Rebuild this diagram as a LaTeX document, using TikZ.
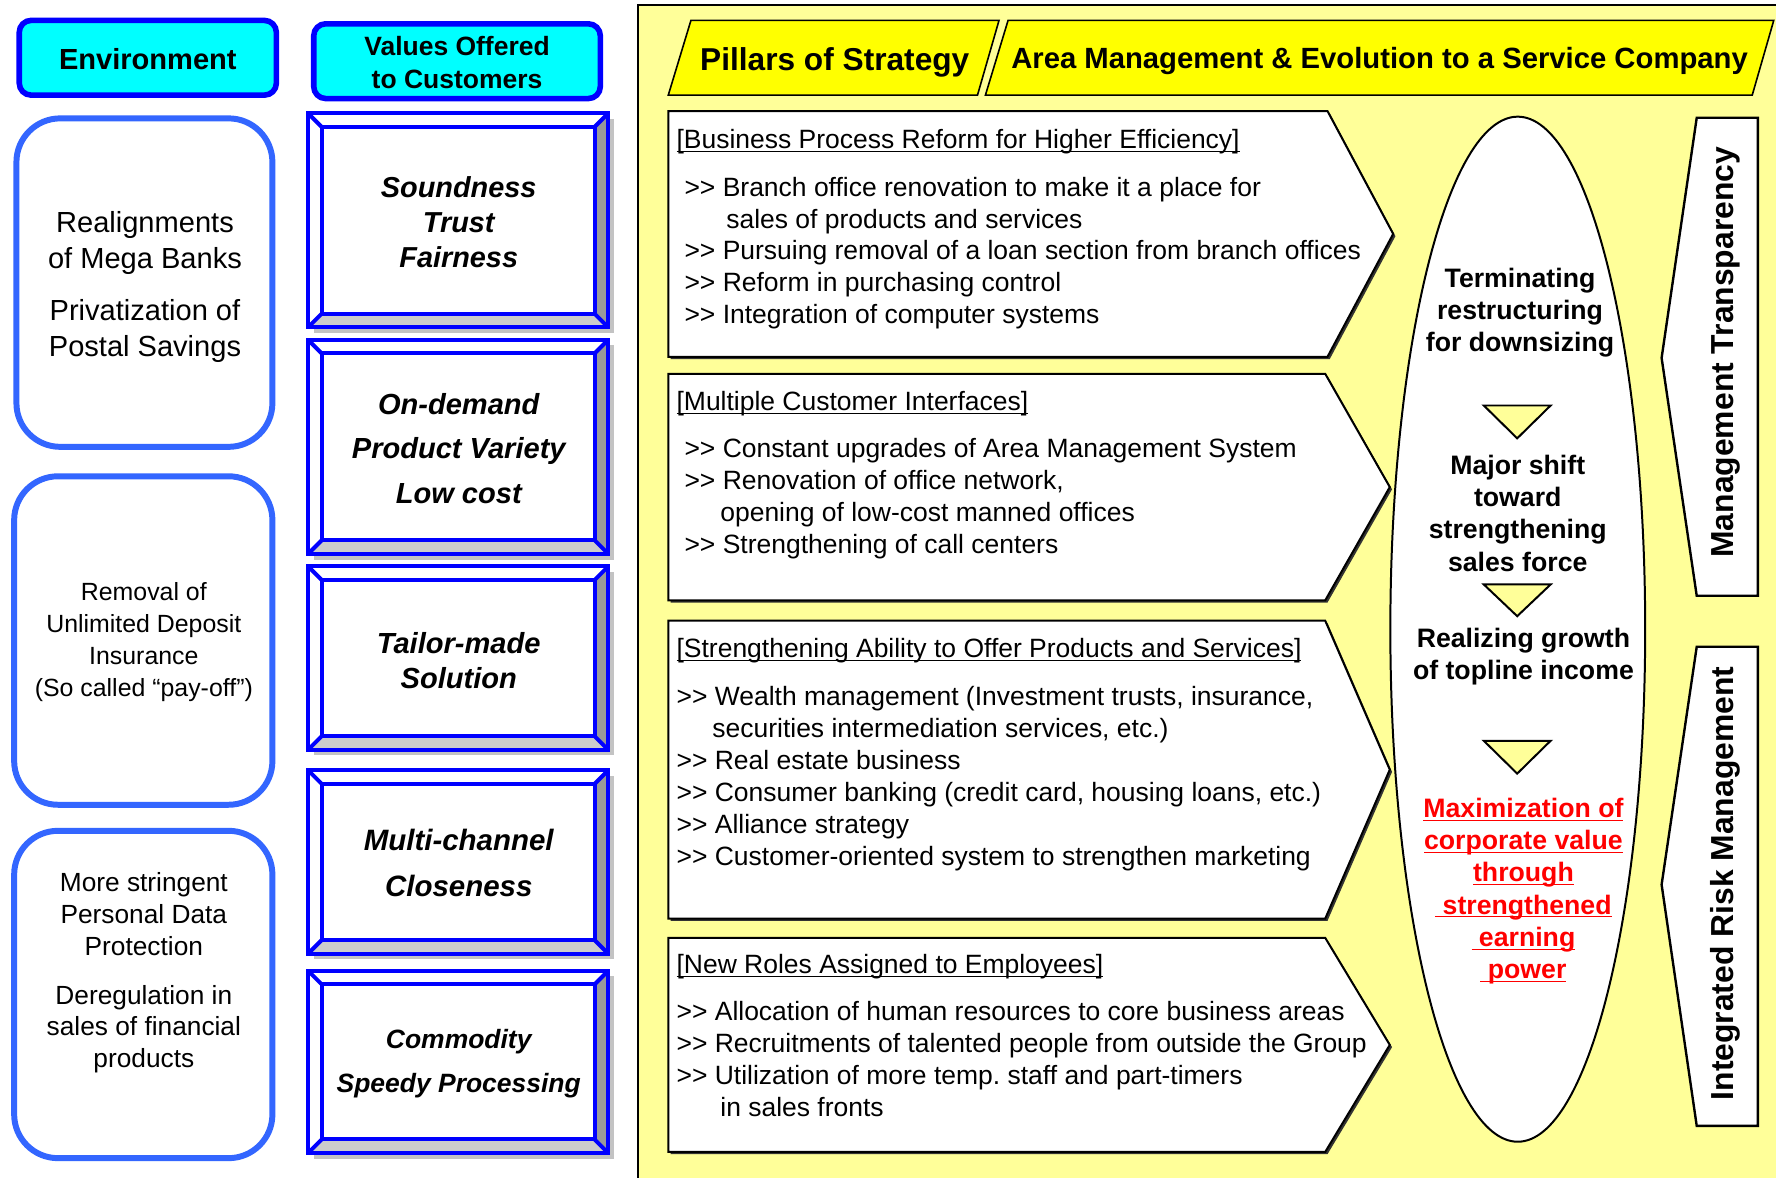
\documentclass[tikz,border=0pt]{standalone}
\usepackage{fontspec}
\setmainfont{Liberation Sans}
\usetikzlibrary{shapes.geometric}
\frenchspacing

\definecolor{hdrblue}{RGB}{0,0,255}
\definecolor{hdrcyan}{RGB}{0,255,255}
\definecolor{envblue}{RGB}{51,102,255}
\definecolor{panelyellow}{RGB}{255,255,153}
\definecolor{tabyellow}{RGB}{255,255,0}
\definecolor{bevelgray}{RGB}{153,153,153}
\definecolor{bevellight}{RGB}{204,204,204}
\definecolor{shadowgray}{RGB}{195,195,195}

\newcommand{\fs}[2]{\fontsize{#1}{#2}\selectfont}
\newcommand{\ulbox}[1]{\underline{\raisebox{0pt}[\height][0pt]{#1}}}
\newcommand{\gtgt}{>\kern0pt>}

\tikzset{
  hdrbox/.style={draw=hdrblue,fill=hdrcyan,line width=2.8pt,rounded corners=6pt},
  envbox/.style={draw=envblue,fill=white,line width=3pt,rounded corners=22pt},
  valline/.style={draw=hdrblue,line width=2pt},
  tab/.style={draw,fill=tabyellow,line width=0.8pt},
  pillar/.style={draw,fill=white,line width=1pt},
  arrowtri/.style={draw,fill=panelyellow,line width=1pt},
  plain/.style={inner sep=0pt,align=center},
  boxtext/.style={inner sep=0pt,anchor=north west,align=left,font=\fs{13.3}{16}},
  valtext/.style={inner sep=0pt,align=center},
  ovaltext/.style={inner sep=0pt,align=center,font=\bfseries\fs{13.4}{16.2}},
  sidetext/.style={inner sep=0pt,rotate=90,font=\bfseries\fs{16}{19}}
}

% value box with bevel: top, bottom
\newcommand{\valuebox}[2]{%
  \fill[shadowgray] (277,#1+5) rectangle (542,#2+5);
  \fill[white] (272,#1) rectangle (537,#2);
  \fill[bevelgray] (537,#1) -- (525,#1+12) -- (525,#2-12) -- (537,#2) -- cycle;
  \fill[bevellight] (272,#2) -- (284,#2-12) -- (525,#2-12) -- (537,#2) -- cycle;
  \draw[valline] (272,#1) rectangle (537,#2);
  \draw[valline] (284,#1+12) rectangle (525,#2-12);
  \draw[valline] (272,#1) -- (284,#1+12) (537,#1) -- (525,#1+12)
                 (272,#2) -- (284,#2-12) (537,#2) -- (525,#2-12);
}

% pillar box with pointed right side: top, bottom, right, tip
\newcommand{\pillarbox}[4]{%
  \fill[black!80] (592,#1+2) -- (#3+2,#1+2) -- (#4+2,{(#1+#2)/2+2}) -- (#3+2,#2+2) -- (592,#2+2) -- cycle;
  \draw[pillar] (590,#1) -- (#3,#1) -- (#4,{(#1+#2)/2}) -- (#3,#2) -- (590,#2) -- cycle;
}

\begin{document}
\begin{tikzpicture}[x=0.2mm,y=-0.2mm]
  \useasboundingbox (0,0) rectangle (1568,1040);

  % environment column
  \draw[hdrbox] (17,18) rectangle (244,84);
  \node[plain,font=\bfseries\fs{14.6}{17}] (envhead) at (130.5,52) {Environment};
  \draw[envbox] (14.5,104.5) rectangle (240.5,394.5);
  \draw[envbox] (12.5,420.5) rectangle (240.5,710.5);
  \draw[envbox] (12.5,733.5) rectangle (240.5,1022.5);
  \node[plain,font=\fs{14.6}{18.1}] (envmega) at (128,253) {Realignments\\of Mega Banks\\[8pt]Privatization of\\Postal Savings};
  \node[plain,font=\fs{12.5}{16}] (envdeposit) at (127,567) {Removal of\\Unlimited Deposit\\Insurance\\(So called “pay-off”)};
  \node[plain,font=\fs{13.2}{16}] (envdata) at (127,859) {More stringent\\Personal Data\\Protection\\[8.5pt]Deregulation in\\sales of financial\\products};

  % values column
  \draw[hdrbox] (277,21) rectangle (530,87);
  \node[plain,font=\bfseries\fs{13.3}{16.4}] (valhead) at (403.5,55) {Values Offered\\to Customers};
  \valuebox{100}{289}
  \valuebox{300}{489}
  \valuebox{500}{662}
  \valuebox{680}{842}
  \valuebox{857}{1018}
  \node[valtext,font=\bfseries\itshape\fs{14.5}{17.6}] (valsound) at (405,196) {Soundness\\Trust\\Fairness};
  \node[valtext,font=\bfseries\itshape\fs{14.6}{22.4}] (valdemand) at (405,396) {On-demand\\Product Variety\\Low cost};
  \node[valtext,font=\bfseries\itshape\fs{14.6}{17.6}] (valtailor) at (405,583) {Tailor-made\\Solution};
  \node[valtext,font=\bfseries\itshape\fs{14.8}{23.2}] (valchannel) at (405,762) {Multi-channel\\Closeness};
  \node[valtext,font=\bfseries\itshape\fs{13.3}{22.1}] (valspeed) at (405,939) {Commodity\\Speedy Processing};

  % strategy panel
  \draw[fill=panelyellow,line width=1pt] (563,4) rectangle (1620,1080);
  \draw[tab] (590,84) -- (610,18) -- (882,18) -- (863,84) -- cycle;
  \draw[tab] (870,84) -- (890,18) -- (1566,18) -- (1547,84) -- cycle;
  \node[plain,font=\bfseries\fs{15.9}{18}] (pillars) at (737,55) {Pillars of Strategy};
  \node[plain,font=\bfseries\fs{14.7}{17}] (areamgmt) at (1218,54) {Area Management \& Evolution to a Service Company};

  \pillarbox{98}{315}{1172}{1230}
  \pillarbox{330}{530}{1170}{1227}
  \pillarbox{548}{811}{1170}{1227}
  \pillarbox{828}{1017}{1170}{1227}

  \node[boxtext] (bprtitle) at (597,114) {\ulbox{[Business Process Reform for Higher Efficiency]}};
  \node[boxtext] (bprlist) at (604,156) {\gtgt{} Branch office renovation to make it a place for\\\hspace*{21pt}sales of products and services\\\gtgt{} Pursuing removal of a loan section from branch offices\\\gtgt{} Reform in purchasing control\\\gtgt{} Integration of computer systems};
  \node[boxtext] (mcititle) at (597,345) {\ulbox{[Multiple Customer Interfaces]}};
  \node[boxtext] (mcilist) at (604,387) {\gtgt{} Constant upgrades of Area Management System\\\gtgt{} Renovation of office network,\\\hspace*{18pt}opening of low-cost manned offices\\\gtgt{} Strengthening of call centers};
  \node[boxtext] (saptitle) at (597,563) {\ulbox{[Strengthening Ability to Offer Products and Services]}};
  \node[boxtext] (saplist) at (597,606) {\gtgt{} Wealth management (Investment trusts, insurance,\\\hspace*{18pt}securities intermediation services, etc.)\\\gtgt{} Real estate business\\\gtgt{} Consumer banking (credit card, housing loans, etc.)\\\gtgt{} Alliance strategy\\\gtgt{} Customer-oriented system to strengthen marketing};
  \node[boxtext] (nratitle) at (597,842) {\ulbox{[New Roles Assigned to Employees]}};
  \node[boxtext] (nralist) at (597,884) {\gtgt{} Allocation of human resources to core business areas\\\gtgt{} Recruitments of talented people from outside the Group\\\gtgt{} Utilization of more temp. staff and part-timers\\\hspace*{22pt}in sales fronts};

  % oval of results
  \draw[pillar] (1340,555.5) ellipse (112.5 and 452.5);
  \node[ovaltext] (terminate) at (1342,276) {Terminating\\restructuring\\for downsizing};
  \draw[arrowtri] (1310,358) -- (1369,358) -- (1339.5,387) -- cycle;
  \node[ovaltext] (majorshift) at (1340,453) {Major shift\\toward\\strengthening\\sales force};
  \draw[arrowtri] (1310,516) -- (1369,516) -- (1339.5,544) -- cycle;
  \node[ovaltext] (topline) at (1345,580) {Realizing growth\\of topline income};
  \draw[arrowtri] (1310,654) -- (1369,654) -- (1339.5,683) -- cycle;
  \node[ovaltext,text=red] (maxvalue) at (1345,786) {\ulbox{Maximization of}\\\ulbox{corporate value}\\\ulbox{through}\\\ulbox{\ strengthened}\\\ulbox{\ earning}\\\ulbox{\ power}};

  % side bands
  \draw[pillar,line width=1.2pt] (1498,104) -- (1552,104) -- (1552,526) -- (1498,526) -- (1467,316) -- cycle;
  \draw[pillar,line width=1.2pt] (1498,571) -- (1552,571) -- (1552,994) -- (1498,994) -- (1467,781) -- cycle;
  \node[sidetext] (transparency) at (1524,311) {Management Transparency};
  \node[sidetext] (riskmgmt) at (1523,780) {Integrated Risk Management};
\end{tikzpicture}
\end{document}
